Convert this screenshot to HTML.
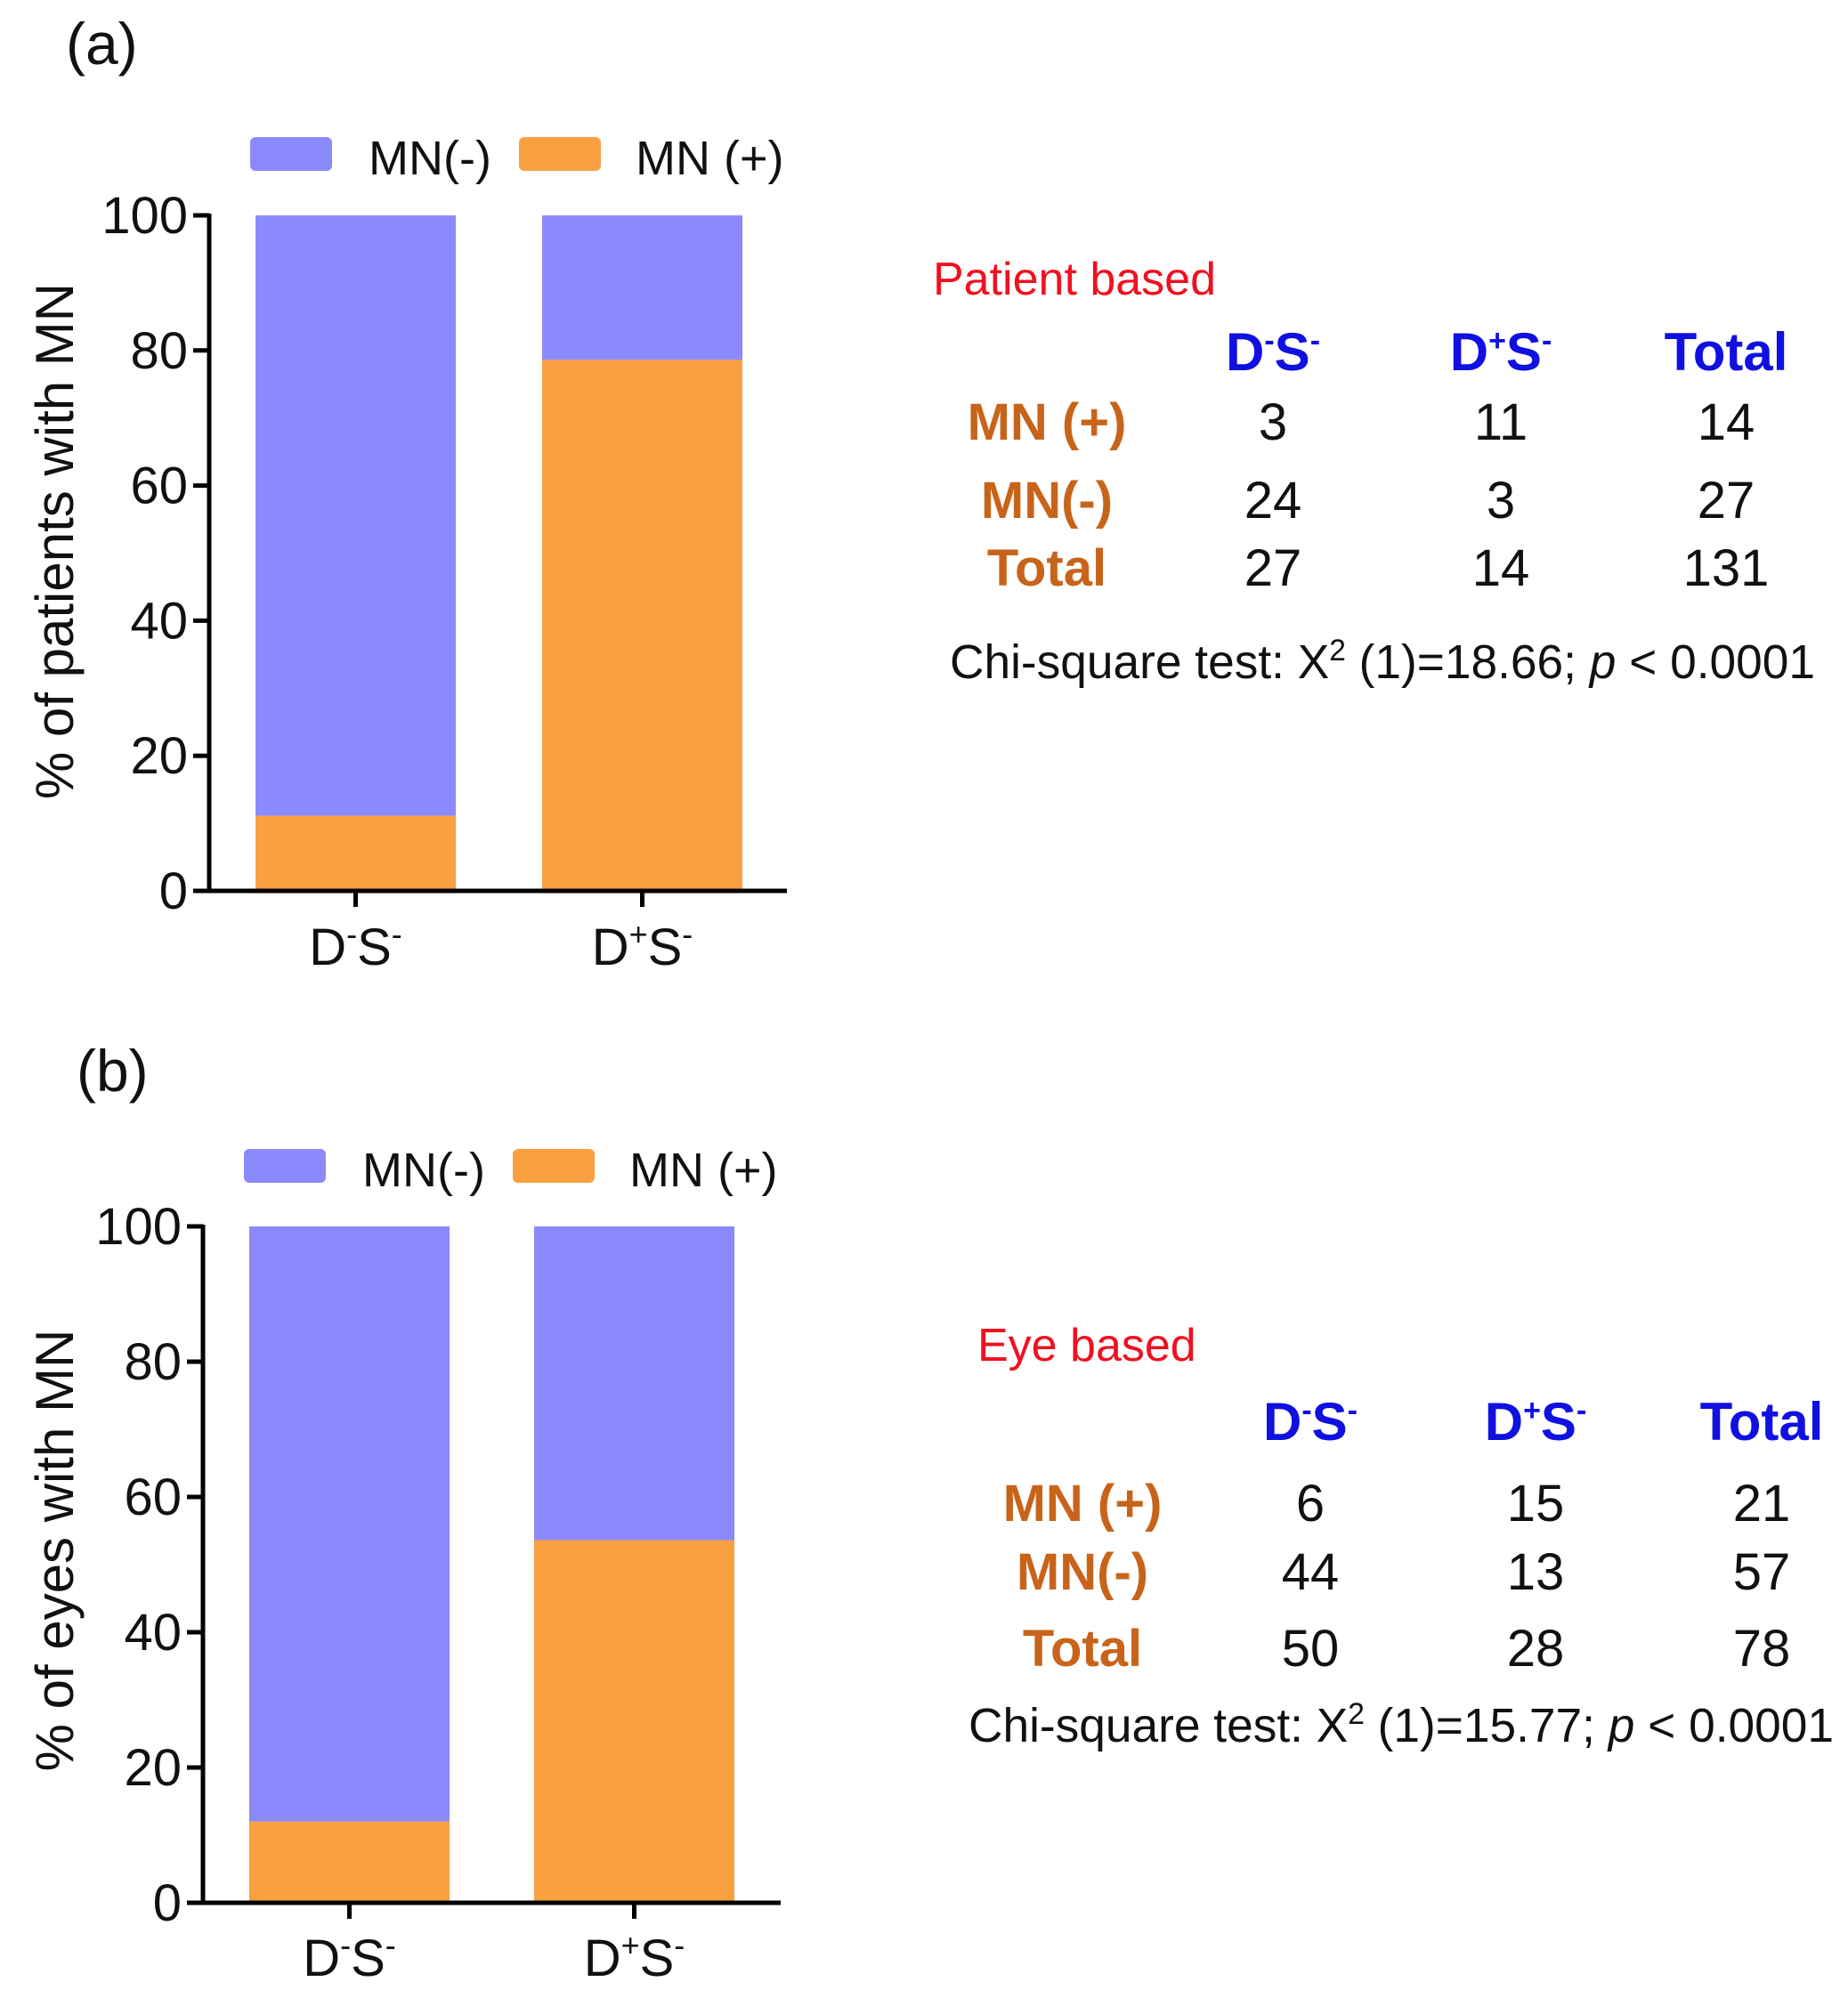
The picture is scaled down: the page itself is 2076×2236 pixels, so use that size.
<!DOCTYPE html>
<html><head><meta charset="utf-8"><style>
html,body{margin:0;padding:0;background:#fff;}
svg{display:block;font-family:"Liberation Sans",Arial,sans-serif;}
</style></head><body>
<svg id="fig" width="2076" height="2236" viewBox="0 0 2076 2236" xmlns="http://www.w3.org/2000/svg">
<rect width="2076" height="2236" fill="#fff"/>
<g id="panelA"></g>
<g id="panelB"></g>
<g id="tables"></g>
</svg>
<script>
const categories = ["D-S-", "D+S-"];
const seriesNames = ["MN(-)", "MN (+)"];
const patientMNpos = [11.1, 78.6];
const eyeMNpos = [12, 53.6];
const yTicks = [0, 20, 40, 60, 80, 100];
const patientTable = [["3","11","14"],["24","3","27"],["27","14","131"]];
const eyeTable = [["6","15","21"],["44","13","57"],["50","28","78"]];
const rowLabels = ["MN (+)", "MN(-)", "Total"];

const NS = "http://www.w3.org/2000/svg";
const BLUE = "#8a8afc", ORANGE = "#f9a040";
function el(tag, attrs, parent, text){
  const e = document.createElementNS(NS, tag);
  for (const k in attrs) e.setAttribute(k, attrs[k]);
  if (text !== undefined) e.textContent = text;
  parent.appendChild(e);
  return e;
}
function catLabel(parent, cx, y, cat){
  const t = el("text", {x:cx, y:y, "font-size":58, "text-anchor":"middle", fill:"#111"}, parent);
  
  
  el("tspan", {}, t, "D");
  el("tspan", {dy:-22, "font-size":36}, t, cat[1]);
  el("tspan", {dy:22}, t, "S");
  el("tspan", {dy:-22, "font-size":36}, t, "-");
}
function drawPanel(g, cfg, vals){
  const yS = v => cfg.y0 + (cfg.y100 - cfg.y0) * v / 100;
  const lab = el("text", {x:cfg.lx, y:cfg.ly, "font-size":66, fill:"#111"}, g, cfg.letter);
  
  
  const sw1 = el("rect", {x:cfg.legX[0], y:cfg.legY, width:92, height:38, rx:6, fill:BLUE}, g);
  
  
  const lt1 = el("text", {x:cfg.legX[0]+133, y:cfg.legY+42, "font-size":54, fill:"#111"}, g, seriesNames[0]);
  
  
  const sw2 = el("rect", {x:cfg.legX[1], y:cfg.legY, width:92, height:38, rx:6, fill:ORANGE}, g);
  
  
  const lt2 = el("text", {x:cfg.legX[1]+131, y:cfg.legY+42, "font-size":54, fill:"#111"}, g, seriesNames[1]);
  
  
  vals.forEach((v, i) => {
    const bx = cfg.bars[i];
    const b1 = el("rect", {x:bx, y:yS(100), width:cfg.bw, height:yS(v)-yS(100), fill:BLUE}, g);
    
    
    const b2 = el("rect", {x:bx, y:yS(v), width:cfg.bw, height:yS(0)-yS(v), fill:ORANGE}, g);
    
    
    const tk = el("line", {x1:bx+cfg.bw/2, x2:bx+cfg.bw/2, y1:cfg.y0, y2:cfg.y0+18, stroke:"#000", "stroke-width":5}, g);
    
    
    catLabel(g, bx+cfg.bw/2, cfg.xlY, categories[i]);
  });
  const ya = el("line", {x1:cfg.ax, x2:cfg.ax, y1:yS(100)-2, y2:cfg.y0+2.5, stroke:"#000", "stroke-width":5}, g);
  
  
  const xa = el("line", {x1:cfg.ax-18, x2:cfg.axEnd, y1:cfg.y0, y2:cfg.y0, stroke:"#000", "stroke-width":5}, g);
  
  
  yTicks.forEach(t => {
    const l = el("line", {x1:cfg.ax-18, x2:cfg.ax, y1:yS(t), y2:yS(t), stroke:"#000", "stroke-width":5}, g);
    
    
    const tl = el("text", {x:cfg.ax-24, y:yS(t)+20, "font-size":58, "text-anchor":"end", fill:"#111"}, g, String(t));
    
    
  });
  const yt = el("text", {x:0, y:0, "font-size":60, "text-anchor":"middle", fill:"#111",
    transform:`translate(${cfg.ytX},${cfg.ytY}) rotate(-90)`}, g, cfg.yTitle);
  
  
}
drawPanel(document.getElementById("panelA"), {
  letter:"(a)", lx:74, ly:72, legX:[281,583], legY:154,
  y0:1001, y100:242, ax:235, axEnd:884, bars:[287,609], bw:225, xlY:1084,
  ytX:82, ytY:608, yTitle:"% of patients with MN"
}, patientMNpos);
drawPanel(document.getElementById("panelB"), {
  letter:"(b)", lx:86, ly:1226, legX:[274,576], legY:1291,
  y0:2138, y100:1378, ax:228, axEnd:877, bars:[280,600], bw:225, xlY:2220,
  ytX:82, ytY:1742, yTitle:"% of eyes with MN"
}, eyeMNpos);

function drawTable(g, cfg, data){
  const title = el("text", {x:cfg.tx, y:cfg.ty, "font-size":52, fill:"#f01020"}, g, cfg.title);
  
  
  const heads = [["D","-","S","-"],["D","+","S","-"],["Total"]];
  heads.forEach((h, i) => {
    const t = el("text", {x:cfg.cols[i], y:cfg.hy, "font-size":60, "font-weight":"bold", "text-anchor":"middle", fill:"#1010e0"}, g);
    
    
    if (h.length === 1) { t.textContent = h[0]; }
    else {
      el("tspan", {}, t, "D");
      el("tspan", {dy:-22, "font-size":34}, t, h[1]);
      el("tspan", {dy:22}, t, "S");
      el("tspan", {dy:-22, "font-size":34}, t, "-");
    }
  });
  data.forEach((row, r) => {
    const rl = el("text", {x:cfg.rlx, y:cfg.rows[r], "font-size":58, "font-weight":"bold", "text-anchor":"middle", fill:"#c8641a"}, g, rowLabels[r]);
    
    
    row.forEach((v, c) => {
      const t = el("text", {x:cfg.cols[c], y:cfg.rows[r], "font-size":58, "text-anchor":"middle", fill:"#111"}, g, v);
      
      
    });
  });
  const chi = el("text", {x:cfg.cx, y:cfg.cy, "font-size":54, fill:"#111", textLength:cfg.cw, lengthAdjust:"spacingAndGlyphs"}, g);
  
  
  el("tspan", {}, chi, "Chi-square test:  X");
  el("tspan", {dy:-20, "font-size":34}, chi, "2");
  el("tspan", {dy:20}, chi, " (1)=" + cfg.chi + "; ");
  el("tspan", {"font-style":"italic"}, chi, "p");
  el("tspan", {}, chi, " < 0.0001");
}
const tg = document.getElementById("tables");
drawTable(tg, {title:"Patient based", tx:1048, ty:331, cols:[1430,1686,1939], hy:416,
  rlx:1176, rows:[494,582,658], cx:1067, cy:762, cw:972, chi:"18.66"}, patientTable);
drawTable(tg, {title:"Eye based", tx:1098, ty:1529, cols:[1472,1725,1979], hy:1618,
  rlx:1216, rows:[1709,1786,1872], cx:1088, cy:1957, cw:972, chi:"15.77"}, eyeTable);
</script>
</body></html>
